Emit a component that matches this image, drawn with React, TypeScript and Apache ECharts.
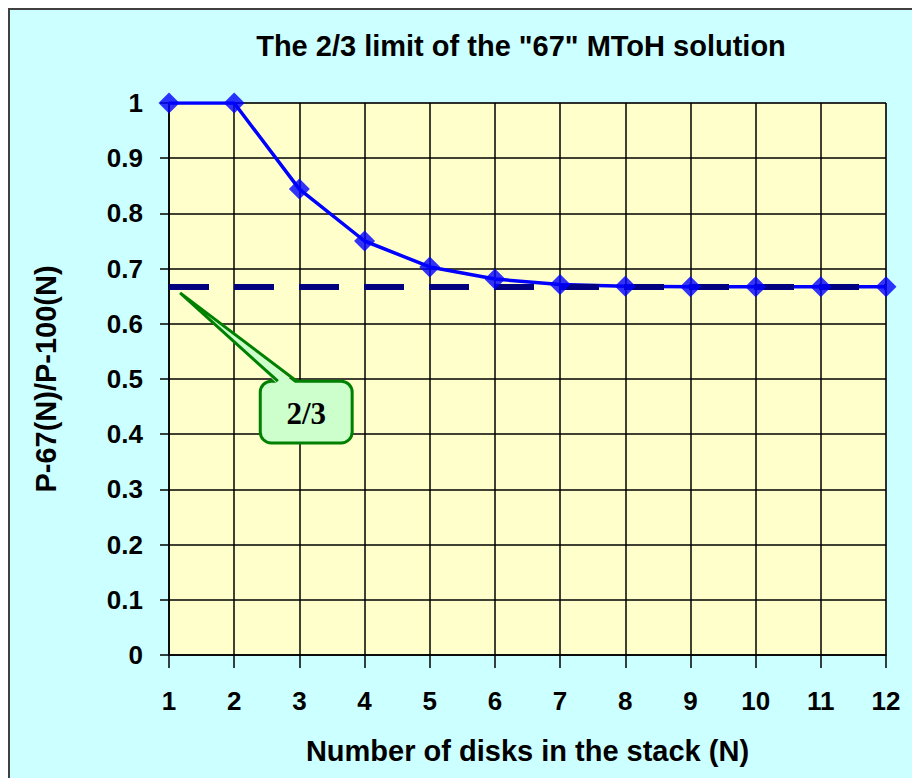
import React, { useEffect, useRef } from "react";
import * as echarts from "echarts";

const disks = [1, 2, 3, 4, 5, 6, 7, 8, 9, 10, 11, 12];
const ratio = [1, 1, 0.844, 0.75, 0.703, 0.681, 0.671, 0.668, 0.667, 0.667, 0.667, 0.667];
const limitValue = 2 / 3;
const limitLabel = "2/3";
const titleText = 'The 2/3 limit of the "67" MToH solution';
const xTitle = "Number of disks in the stack (N)";
const yTitle = "P-67(N)/P-100(N)";

export default function App() {
  const ref = useRef<HTMLDivElement>(null);
  useEffect(() => {
    document.body.style.margin = "0";
    const chart = echarts.init(ref.current!, null, { renderer: "svg" });
    const pts = disks.map((d, i) => [d, ratio[i]]);
    const font = "'Liberation Sans', Arial, sans-serif";
    chart.setOption({
      animation: false,
      backgroundColor: "#ffffff",
      title: {
        text: titleText,
        left: 516,
        textAlign: "center",
        top: 26,
        textStyle: { fontFamily: font, fontWeight: "bold", fontSize: 29, color: "#000" },
      },
      grid: {
        left: 169,
        right: 26,
        top: 103,
        bottom: 123,
        show: true,
        backgroundColor: "#FFFFCC",
        borderColor: "#808080",
        borderWidth: 1,
      },
      xAxis: {
        type: "value",
        min: 1,
        max: 12,
        interval: 1,
        name: xTitle,
        nameLocation: "middle",
        nameGap: 81,
        nameTextStyle: { fontFamily: font, fontWeight: "bold", fontSize: 29, color: "#000" },
        axisLine: { show: true, lineStyle: { color: "#000", width: 1.5 } },
        axisTick: { show: true, length: 13, lineStyle: { color: "#000", width: 1.5 } },
        axisLabel: { margin: 33, fontFamily: font, fontWeight: "bold", fontSize: 26, color: "#000" },
        splitLine: { show: true, lineStyle: { color: "#000", width: 1.5 } },
      },
      yAxis: {
        type: "value",
        min: 0,
        max: 1,
        interval: 0.1,
        name: yTitle,
        nameLocation: "middle",
        nameGap: 109,
        nameTextStyle: { fontFamily: font, fontWeight: "bold", fontSize: 29, color: "#000" },
        axisLine: { show: true, lineStyle: { color: "#000", width: 1.5 } },
        axisTick: { show: true, length: 9, lineStyle: { color: "#000", width: 1.5 } },
        axisLabel: { margin: 26, fontFamily: font, fontWeight: "bold", fontSize: 26, color: "#000" },
        splitLine: { show: true, lineStyle: { color: "#000", width: 1.5 } },
      },
      series: [
        {
          type: "line",
          data: pts,
          showSymbol: false,
          symbol: "none",
          lineStyle: { color: "#0000FF", width: 3.5 },
          z: 2,
        },
        {
          type: "line",
          data: [
            [disks[0], limitValue],
            [disks[disks.length - 1], limitValue],
          ],
          symbol: "none",
          lineStyle: { color: "#000080", width: 6, type: [40, 25] },
          z: 3,
        },
        {
          type: "scatter",
          data: pts,
          symbol: "diamond",
          symbolSize: [21, 21],
          itemStyle: { color: "#0000FF" },
          z: 4,
        },
      ],
    });

    const p = (x: number, y: number) => chart.convertToPixel({ gridIndex: 0 }, [x, y]) as number[];
    const tip = p(1.17, 0.656);
    const boxTL = p(2.4, 0.496);
    const boxBR = p(3.81, 0.384);
    const baseL = p(2.67, 0.496);
    const baseR = p(2.96, 0.496);
    const green = "#008000";
    const fill = "#CCFFCC";
    chart.setOption({
      graphic: [
        {
          type: "rect",
          shape: { x: 9, y: 9, width: 960, height: 820 },
          style: { fill: "none", stroke: "#404040", lineWidth: 2 },
          z: -1,
          silent: true,
        },
        {
          type: "rect",
          shape: { x: 10, y: 10, width: 960, height: 820 },
          style: { fill: "#CCFFFF" },
          z: -10,
          silent: true,
        },
        {
          type: "rect",
          shape: {
            x: boxTL[0],
            y: boxTL[1],
            width: boxBR[0] - boxTL[0],
            height: boxBR[1] - boxTL[1],
            r: 11,
          },
          style: { fill, stroke: green, lineWidth: 3 },
          z: 10,
        },
        {
          type: "polygon",
          shape: { points: [tip, [baseL[0], baseL[1] + 3], [baseR[0], baseR[1] + 3]] },
          style: { fill },
          z: 11,
        },
        {
          type: "polyline",
          shape: { points: [baseL, tip, baseR] },
          style: { fill: "none", stroke: green, lineWidth: 3, lineJoin: "miter" },
          z: 12,
        },
        {
          type: "text",
          x: (boxTL[0] + boxBR[0]) / 2,
          y: (boxTL[1] + boxBR[1]) / 2 + 1,
          style: {
            text: limitLabel,
            fill: "#000",
            font: "bold 31px 'Liberation Serif', 'Times New Roman', serif",
            align: "center",
            verticalAlign: "middle",
          },
          z: 13,
        },
      ],
    });
    return () => chart.dispose();
  }, []);
  return <div ref={ref} style={{ width: 912, height: 778 }} />;
}
